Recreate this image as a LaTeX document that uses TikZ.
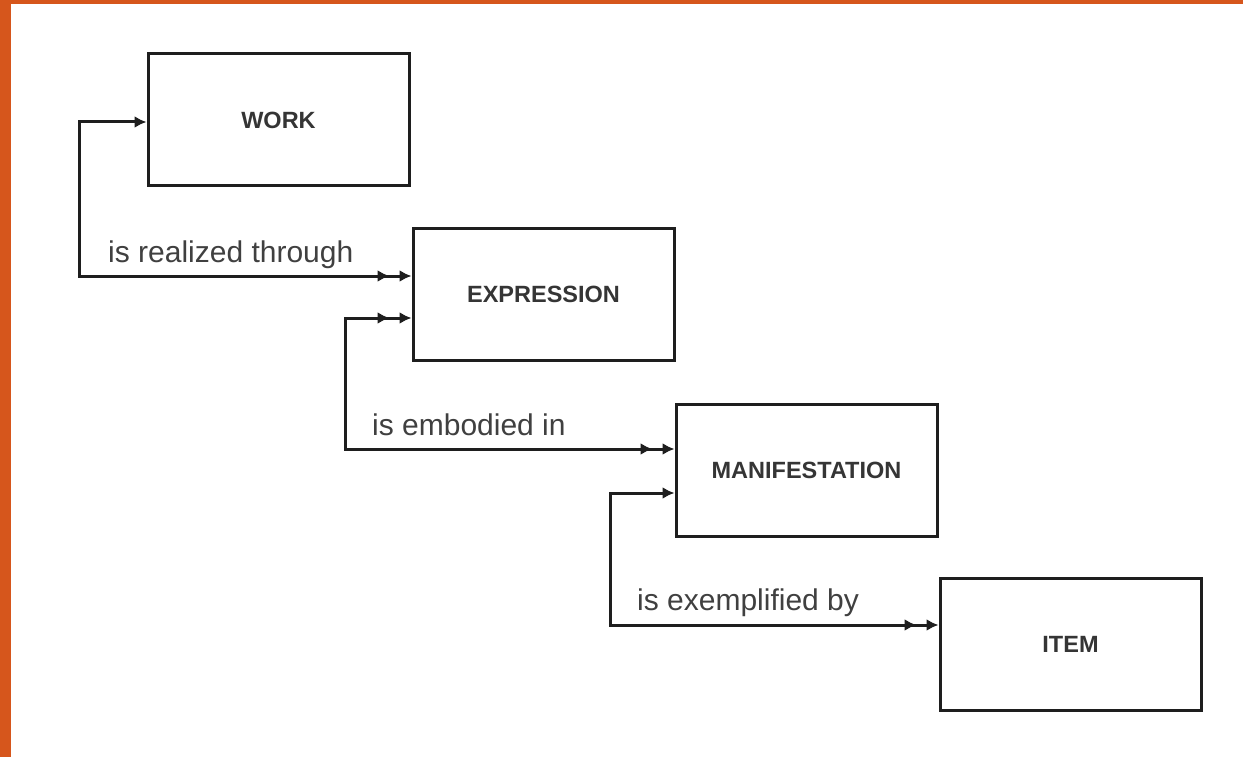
\documentclass[tikz,border=0pt]{standalone}
\usepackage{fontspec}
\setmainfont{Liberation Sans}
\usetikzlibrary{arrows.meta,calc}
\definecolor{frame}{RGB}{214,86,28}
\definecolor{ink}{RGB}{30,30,30}
\tikzset{
  entity/.style={draw=ink, line width=3pt, minimum width=261pt, minimum height=132pt,
    inner sep=0pt, font=\fontsize{23.5}{28}\selectfont\bfseries, text=ink!90},
  conn/.style={draw=ink, line width=3pt},
  rel/.style={anchor=base west, inner sep=0pt, font=\fontsize{30}{36}\selectfont, text=ink!85},
  tip/.tip={Latex[length=12pt,width=12pt]},
  onemany/.style={{tip[]}-{tip[sep=10pt]tip[]}},
  manymany/.style={{tip[]tip[sep=10pt]}-{tip[sep=10pt]tip[]}}
}
\begin{document}
\begin{tikzpicture}[x=1pt,y=-1pt]
\useasboundingbox (0,0) rectangle (1243,757);
\fill[white] (0,0) rectangle (1243,757);
\fill[frame] (0,0) rectangle (1243,4);
\fill[frame] (0,0) rectangle (11,757);

\node[entity] (work)  at (278.5,120) {WORK};
\node[entity] (expr)  at (543.5,294) {EXPRESSION};
\node[entity] (manif) at (806.5,470) {MANIFESTATION};
\node[entity] (item)  at (1070.5,644) {ITEM};

\draw[conn, onemany] ([yshift=-2pt]work.west) -- ++(-67,0) |- ($(expr.west)+(0,-18)$);
\draw[conn, manymany] ($(expr.west)+(0,24)$) -- ++(-66,0) |- ($(manif.west)+(0,-21)$);
\draw[conn, onemany] ($(manif.west)+(0,23)$) -- ++(-64,0) |- ($(item.west)+(0,-19)$);

\node[rel] (l1) at (108,262) {is realized through};
\node[rel] (l2) at (372,435) {is embodied in};
\node[rel] (l3) at (637,610) {is exemplified by};
\end{tikzpicture}
\end{document}
